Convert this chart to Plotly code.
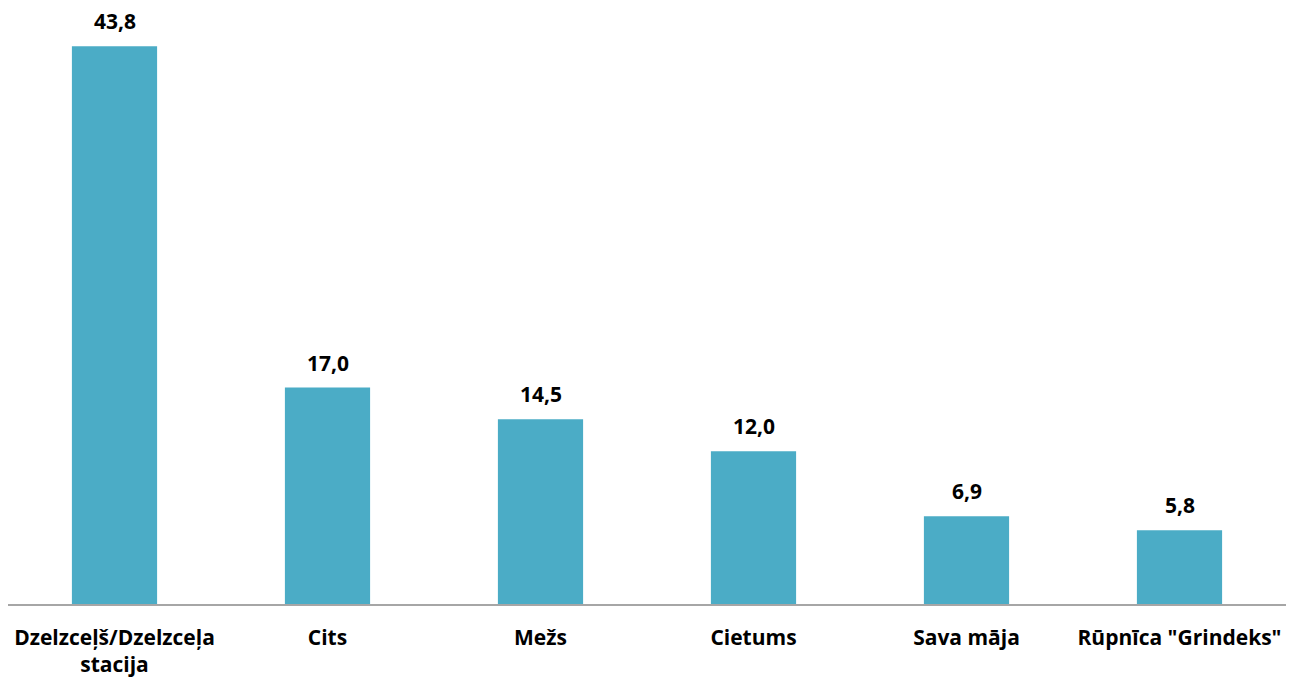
import plotly.graph_objects as go

# Data
categories = ['Dzelzceļš/Dzelzceļa<br>stacija', 'Cits', 'Mežs', 'Cietums',
              'Sava māja', 'Rūpnīca "Grindeks"']
values = [43.8, 17.0, 14.5, 12.0, 6.9, 5.8]

BAR_COLOR = '#4BACC6'
FONT = 'Open Sans, DejaVu Sans, sans-serif'

fig = go.Figure(
    data=[
        go.Bar(
            x=categories,
            y=values,
            marker_color=BAR_COLOR,
            marker_line_width=0,
            hoverinfo='x+y',
        )
    ]
)

# value labels above the bars
for cat, val in zip(categories, values):
    fig.add_annotation(
        x=cat, y=val, text=f'<b>{val:.1f}</b>'.replace('.', ','),
        showarrow=False, yanchor='middle', yshift=25, borderpad=0,
        font=dict(family=FONT, size=21, color='#000000'),
    )

# page body has an 8px margin, so keep the figure inside the window
fig.update_layout(
    width=1290,
    height=671,
    margin=dict(l=0, r=12, t=0, b=75),
    plot_bgcolor='white',
    paper_bgcolor='white',
    bargap=0.6,
    showlegend=False,
    font=dict(family=FONT, color='#000000'),
)
fig.update_xaxes(
    automargin=False,
    showline=True,
    linecolor='#A6A6A6',
    linewidth=1.5,
    showgrid=False,
    ticks='',
    tickfont=dict(family=FONT, size=21, color='#000000', weight='bold'),
    ticklabelstandoff=14,
)
fig.update_yaxes(
    range=[0, 46.8],
    visible=False,
    showgrid=False,
    zeroline=False,
    automargin=False,
)

fig.write_html('out.html')
